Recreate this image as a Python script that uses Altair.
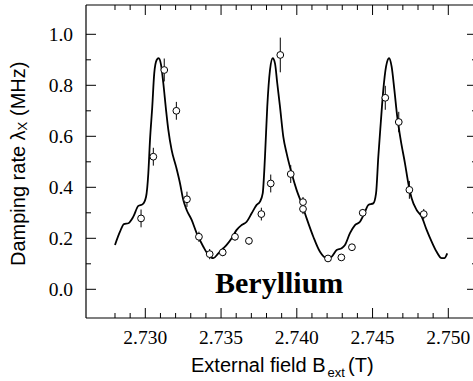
import altair as alt
import pandas as pd

# ---------------- data ----------------
field_T = [2.72972, 2.73053, 2.73125, 2.73205, 2.73275, 2.73354, 2.73425, 2.73511,
           2.73592, 2.73684, 2.73766, 2.73828, 2.73891, 2.73960, 2.74041, 2.74041,
           2.74206, 2.74294, 2.74364, 2.74435, 2.74584, 2.74673, 2.74743, 2.74838]
rate = [0.278, 0.520, 0.860, 0.700, 0.353, 0.206, 0.138, 0.145,
        0.206, 0.190, 0.295, 0.415, 0.919, 0.452, 0.342, 0.315,
        0.121, 0.125, 0.165, 0.300, 0.751, 0.656, 0.390, 0.295]
rate_err = [0.035, 0.035, 0.045, 0.035, 0.030, 0.020, 0.020, 0.015,
            0.015, 0.015, 0.025, 0.035, 0.068, 0.035, 0.020, 0.020,
            0.010, 0.010, 0.010, 0.015, 0.047, 0.040, 0.035, 0.020]

curve_field = [2.72800, 2.72833, 2.72859, 2.72888, 2.72921, 2.72954, 2.72983, 2.73005,
               2.73020, 2.73031, 2.73046, 2.73059, 2.73075, 2.73088, 2.73104, 2.73119,
               2.73137, 2.73152, 2.73174, 2.73203, 2.73229, 2.73251, 2.73273, 2.73306,
               2.73339, 2.73383, 2.73416, 2.73449, 2.73482, 2.73515, 2.73537, 2.73570,
               2.73603, 2.73636, 2.73669, 2.73702, 2.73735, 2.73757, 2.73775, 2.73790,
               2.73805, 2.73823, 2.73841, 2.73856, 2.73871, 2.73889, 2.73911, 2.73933,
               2.73966, 2.73999, 2.74032, 2.74065, 2.74109, 2.74153, 2.74197, 2.74230,
               2.74263, 2.74296, 2.74318, 2.74351, 2.74384, 2.74417, 2.74450, 2.74472,
               2.74505, 2.74523, 2.74538, 2.74554, 2.74571, 2.74589, 2.74609, 2.74626,
               2.74644, 2.74663, 2.74686, 2.74714, 2.74736, 2.74758, 2.74791, 2.74824,
               2.74857, 2.74890, 2.74923, 2.74956, 2.74974, 2.74993]
curve_rate = [0.174, 0.226, 0.256, 0.259, 0.285, 0.327, 0.334, 0.363,
              0.455, 0.585, 0.716, 0.847, 0.899, 0.906, 0.880, 0.808,
              0.703, 0.625, 0.546, 0.481, 0.416, 0.350, 0.311, 0.272,
              0.220, 0.167, 0.135, 0.122, 0.141, 0.161, 0.174, 0.200,
              0.233, 0.252, 0.265, 0.298, 0.331, 0.344, 0.376, 0.520,
              0.716, 0.860, 0.906, 0.886, 0.808, 0.716, 0.598, 0.533,
              0.455, 0.389, 0.337, 0.278, 0.206, 0.147, 0.122, 0.128,
              0.154, 0.161, 0.174, 0.220, 0.252, 0.265, 0.304, 0.331,
              0.337, 0.376, 0.520, 0.651, 0.782, 0.873, 0.906, 0.873,
              0.782, 0.677, 0.585, 0.494, 0.416, 0.357, 0.311, 0.285,
              0.233, 0.187, 0.147, 0.122, 0.122, 0.141]

x_labels = [2.730, 2.735, 2.740, 2.745, 2.750]
x_minor = [2.728, 2.729, 2.731, 2.732, 2.733, 2.734, 2.736, 2.737, 2.738, 2.739,
           2.741, 2.742, 2.743, 2.744, 2.746, 2.747, 2.748, 2.749]
y_labels = [0.0, 0.2, 0.4, 0.6, 0.8, 1.0]
y_minor = [0.1, 0.3, 0.5, 0.7, 0.9]

x_domain = [2.726086, 2.751630]
y_domain = [-0.1125, 1.1149]

# ---------------- layout ----------------
W, H = 387, 313
MAJOR, MINOR = 10, 5
SERIF = "Liberation Serif"
SANS = "Liberation Sans"

pts_df = pd.DataFrame({"B": field_T, "L": rate, "e": rate_err})
curve_df = pd.DataFrame({"B": curve_field, "L": curve_rate})

xscale = alt.Scale(domain=x_domain, nice=False, zero=False)
yscale = alt.Scale(domain=y_domain, nice=False, zero=False)


def X(field):
    return alt.X(field, scale=xscale, axis=None)


def Y(field):
    return alt.Y(field, scale=yscale, axis=None)


line = alt.Chart(curve_df).mark_line(
    color="black", strokeWidth=1.8, interpolate="monotone"
).encode(x=X("B:Q"), y=Y("L:Q"))

errs = alt.Chart(pts_df).transform_calculate(
    lo="datum.L - datum.e", hi="datum.L + datum.e"
).mark_rule(color="black", strokeWidth=1).encode(
    x=X("B:Q"), y=Y("lo:Q"), y2="hi:Q"
)

pts = alt.Chart(pts_df).mark_circle(
    fill="white", stroke="black", strokeWidth=1, size=46, opacity=1
).encode(x=X("B:Q"), y=Y("L:Q"))


# ---- frame, inside ticks and tick labels, all placed through the same scales ----
def xticks(values, y0, y1):
    return alt.Chart(pd.DataFrame({"B": values})).mark_rule(
        color="black", strokeWidth=1
    ).encode(x=X("B:Q"), y=alt.value(y0), y2=alt.value(y1))


def yticks(values, x0, x1):
    return alt.Chart(pd.DataFrame({"L": values})).mark_rule(
        color="black", strokeWidth=1
    ).encode(y=Y("L:Q"), x=alt.value(x0), x2=alt.value(x1))


RX = W + 4  # right frame sits just outside the window
ticks = [
    xticks(x_labels, H, H - MAJOR), xticks(x_minor, H, H - MINOR),
    xticks(x_labels, 0, MAJOR), xticks(x_minor, 0, MINOR),
    yticks(y_labels, 0, MAJOR), yticks(y_minor, 0, MINOR),
    yticks(y_labels, RX, RX - MAJOR), yticks(y_minor, RX, RX - MINOR),
]

frame_df = pd.DataFrame({"k": [0]})
frame = [
    alt.Chart(frame_df).mark_rule(color="black", strokeWidth=1.2).encode(
        x=alt.value(0), x2=alt.value(W), y=alt.value(0)),
    alt.Chart(frame_df).mark_rule(color="black", strokeWidth=1.2).encode(
        x=alt.value(0), x2=alt.value(W), y=alt.value(H)),
    alt.Chart(frame_df).mark_rule(color="black", strokeWidth=1.2).encode(
        x=alt.value(0), y=alt.value(0), y2=alt.value(H)),
]

x_ticklabels = alt.Chart(pd.DataFrame({"B": x_labels})).transform_calculate(
    lab="format(datum.B, '.3f')"
).mark_text(
    font=SERIF, fontSize=19.5, color="black", align="center", baseline="alphabetic"
).encode(x=X("B:Q"), y=alt.value(H + 25.5), text="lab:N")

y_ticklabels = alt.Chart(pd.DataFrame({"L": y_labels})).transform_calculate(
    lab="format(datum.L, '.1f')"
).mark_text(
    font=SERIF, fontSize=19.5, color="black", align="right", baseline="middle", dy=1
).encode(y=Y("L:Q"), x=alt.value(-13), text="lab:N")


def label(text, x, y, size, font=SANS, weight="normal", angle=0):
    return alt.Chart(pd.DataFrame({"t": [text]})).mark_text(
        font=font, fontSize=size, fontWeight=weight, angle=angle, align="left",
        baseline="alphabetic", color="black"
    ).encode(text="t:N", x=alt.value(x), y=alt.value(y))


texts = [
    # x axis title with subscript
    label("External field B", 105, 367, 20),
    label("ext", 241.5, 371.5, 13),
    label("(T)", 262, 367, 20),
    # y axis title (rotated) with subscript
    label("Damping rate", -61, 261, 20, angle=270),
    label("λ", -61, 135.5, 20, angle=270),
    label("X", -59.5, 125.5, 13, angle=270),
    label("(MHz)", -61, 111, 20, angle=270),
    # annotation
    label("Beryllium", 129, 288, 30, font=SERIF, weight="bold"),
]

chart = alt.layer(
    line, *ticks, *frame, errs, pts, x_ticklabels, y_ticklabels, *texts
).properties(
    width=W, height=H,
    autosize=alt.AutoSizeParams(type="none"),
    padding={"left": 86, "top": 5, "right": 0, "bottom": 63},
).configure_view(stroke=None)

chart.save("out.html", embed_options={"renderer": "svg", "actions": False})
